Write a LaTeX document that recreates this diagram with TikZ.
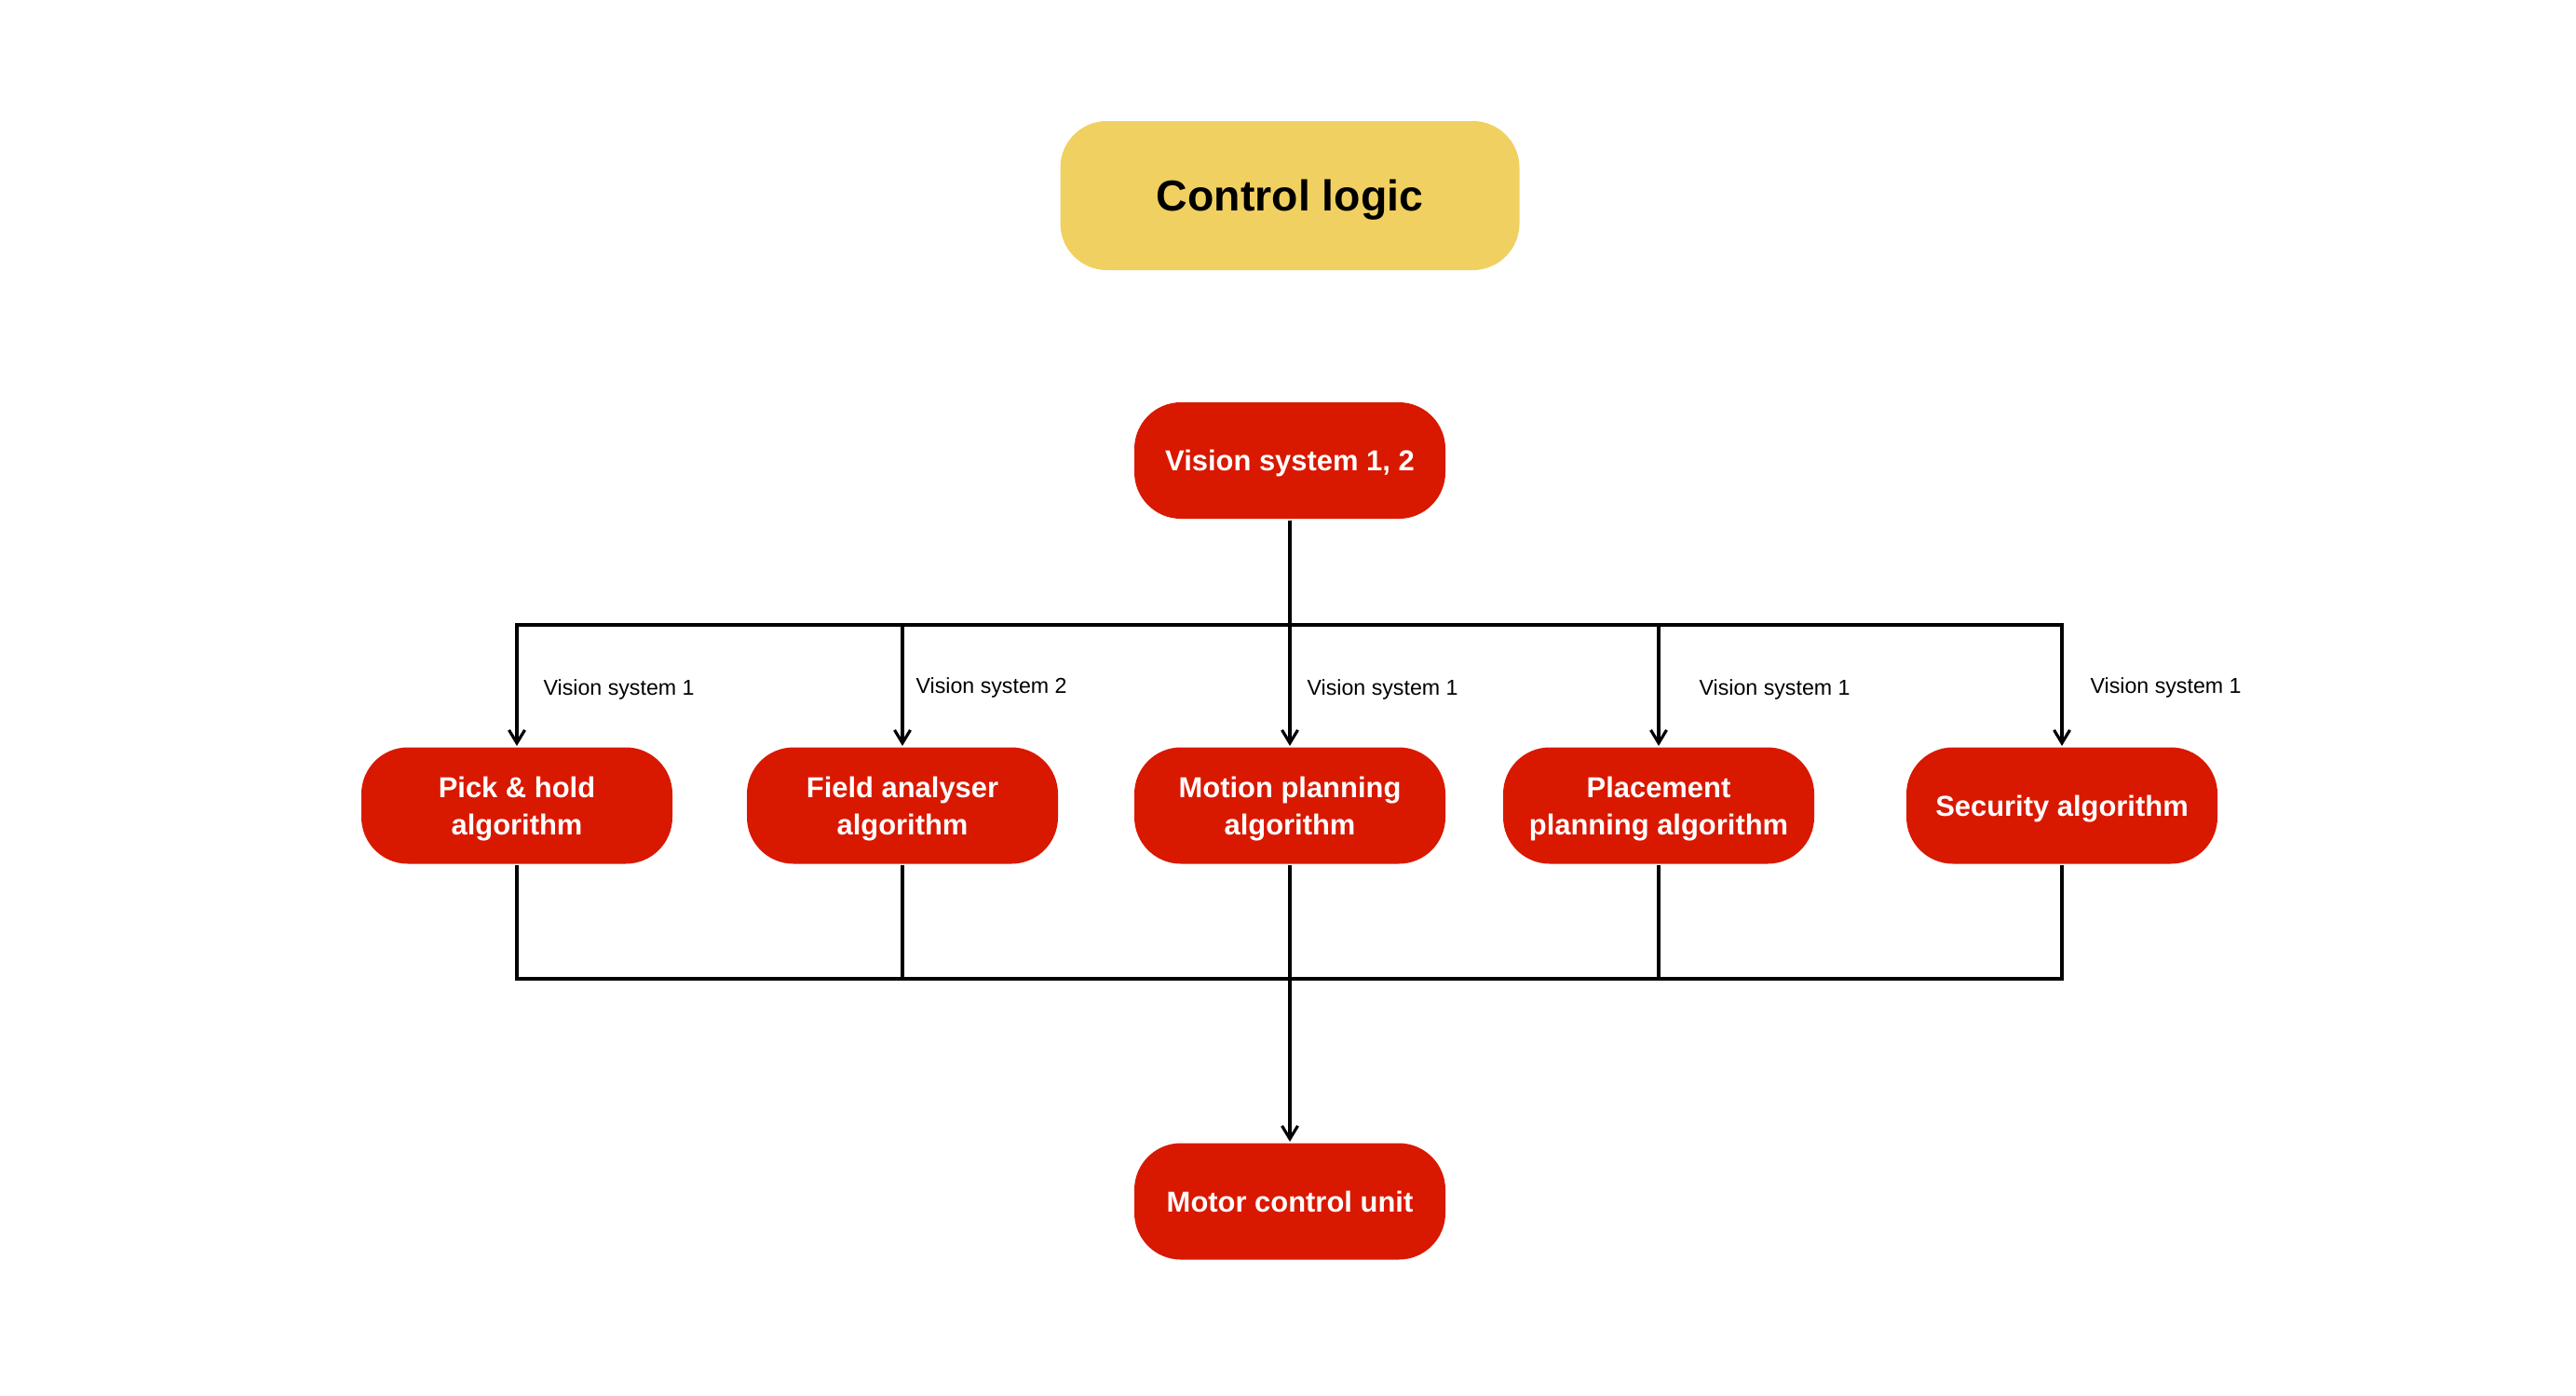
\documentclass[tikz,border=0pt]{standalone}
\usepackage{fontspec}
\setmainfont{Liberation Sans}
\usepackage{xcolor}
\usepackage{tikz}
\usetikzlibrary{arrows.meta}

\definecolor{algored}{RGB}{217,24,0}
\definecolor{logicyellow}{RGB}{240,208,96}

\begin{document}
\begin{tikzpicture}[>={Straight Barb[length=1.4mm,width=1.7mm]}, line width=0.9pt,
                    block/.style = {fill=algored, text=white, rounded corners=0.5cm, text depth=0pt,
                                    minimum width=3.34cm, minimum height=1.25cm, align=center,
                                    font=\bfseries\fontsize{8.8}{11.4}\selectfont},
                    lbl/.style = {anchor=west, inner sep=0pt, font=\fontsize{6.6}{8}\selectfont}]
                    \useasboundingbox (0,0) rectangle (27.66,-14.98);

                    \node[fill=logicyellow, rounded corners=0.5cm, minimum width=4.93cm, minimum height=1.6cm,
                          text depth=0pt, font=\bfseries\fontsize{13.2}{15}\selectfont] (logic) at (13.85,-2.10) {Control logic};

                    \node[block] (vis) at (13.85,-4.945) {Vision system 1, 2};

                    \node[block] (pick)   at (5.55,-8.65)  {Pick \& hold\\algorithm};
                    \node[block] (field)  at (9.69,-8.65)  {Field analyser\\algorithm};
                    \node[block] (motion) at (13.85,-8.65) {Motion planning\\algorithm};
                    \node[block] (place)  at (17.81,-8.65) {Placement\\planning algorithm};
                    \node[block] (secu)   at (22.14,-8.65) {Security algorithm};

                    \node[block] (motor) at (13.85,-12.90) {Motor control unit};

                    \coordinate (topbus) at (13.85,-6.71);
                    \coordinate (botbus) at (13.85,-10.51);

                    \foreach \n in {pick, field, motion, place, secu}
                        \draw[->] (vis.south) -- (topbus) -| (\n.north);
                    \foreach \n in {pick, field, motion, place, secu}
                        \draw (\n.south) |- (botbus);
                    \draw[->] (botbus) -- (motor.north);

                    \node[lbl] (lpick)   at (5.82,-7.40)  {Vision system 1};
                    \node[lbl] (lfield)  at (9.82,-7.38)  {Vision system 2};
                    \node[lbl] (lmotion) at (14.02,-7.40) {Vision system 1};
                    \node[lbl] (lplace)  at (18.23,-7.40) {Vision system 1};
                    \node[lbl] (lsecu)   at (22.43,-7.38) {Vision system 1};

            \end{tikzpicture}
\end{document}
